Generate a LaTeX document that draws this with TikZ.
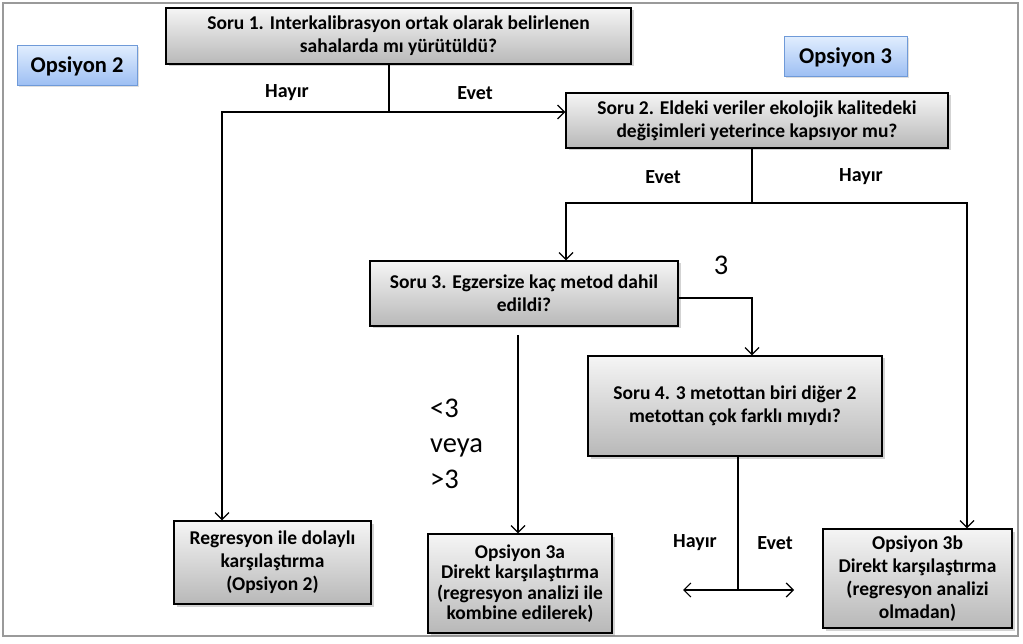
\documentclass[tikz,border=0pt]{standalone}
\usepackage{fontspec}
\setmainfont{Carlito}
\usetikzlibrary{arrows.meta,shadows}
\definecolor{boxtop}{HTML}{F5F5F5}
\definecolor{boxbot}{HTML}{B8B8B8}
\definecolor{bluetop}{HTML}{E0EDFE}
\definecolor{bluebot}{HTML}{9CBEF3}
\definecolor{blueline}{HTML}{6F9AD8}
\definecolor{framegray}{HTML}{9A9A9A}
\tikzset{
  qbox/.style={draw=black, line width=1.3pt, top color=boxtop, bottom color=boxbot,
    drop shadow={shadow xshift=2.5pt, shadow yshift=-2.5pt, opacity=0.35},
    align=center, inner sep=2pt,
    font=\fontsize{19.5}{23}\selectfont\bfseries},
  optlabel/.style={draw=blueline, line width=1pt, top color=bluetop, bottom color=bluebot,
    drop shadow={shadow xshift=1.5pt, shadow yshift=-1.5pt, opacity=0.25},
    align=center, font=\fontsize{22.5}{26}\selectfont\bfseries},
  lbl/.style={font=\fontsize{20}{24}\selectfont\bfseries, inner sep=0pt},
  biglbl/.style={font=\fontsize{28.5}{36}\selectfont, inner sep=0pt},
  conn/.style={line width=1.2pt, draw=black},
  arr/.style={conn, -{Straight Barb[length=7pt,width=14pt,line width=1.2pt]}},
  darr/.style={conn, {Straight Barb[length=7pt,width=14pt,line width=1.2pt]}-{Straight Barb[length=7pt,width=14pt,line width=1.2pt]}}
}
\begin{document}
\begin{tikzpicture}[x=1pt,y=-1pt]
\useasboundingbox (0,0) rectangle (1023,644);
% outer frame
\draw[framegray, line width=1.8pt] (3,3) rectangle (1018,636);

% option labels
\node[optlabel, minimum width=120, minimum height=40] (opt2) at (77,66) {Opsiyon 2};
\node[optlabel, minimum width=123, minimum height=40] (opt3) at (845.5,57) {Opsiyon 3};

% question and outcome boxes
\node[qbox, minimum width=465, minimum height=56] (s1) at (398.5,36)
  {Soru 1. Interkalibrasyon ortak olarak belirlenen\\sahalarda mı yürütüldü?};
\node[qbox, minimum width=382, minimum height=55] (s2) at (757,120.5)
  {Soru 2. Eldeki veriler ekolojik kalitedeki\\değişimleri yeterince kapsıyor mu?};
\node[qbox, minimum width=308, minimum height=65] (s3) at (524,293.5)
  {Soru 3. Egzersize kaç metod dahil\\edildi?};
\node[qbox, minimum width=294, minimum height=100, font=\fontsize{19.5}{22.5}\selectfont\bfseries] (s4) at (735,406)
  {Soru 4. 3 metottan biri diğer 2\\metottan çok farklı mıydı?};
\node[qbox, minimum width=197, minimum height=83] (reg) at (272.5,562.5)
  {Regresyon ile dolaylı\\karşılaştırma\\(Opsiyon 2)};
\node[qbox, minimum width=184, minimum height=99, font=\fontsize{19.5}{20.5}\selectfont\bfseries] (o3a) at (520,583.5)
  {Opsiyon 3a\\Direkt karşılaştırma\\(regresyon analizi ile\\kombine edilerek)};
\node[qbox, minimum width=189, minimum height=99] (o3b) at (917.5,578.5)
  {Opsiyon 3b\\Direkt karşılaştırma\\(regresyon analizi\\olmadan)};

% branch points
\coordinate (j1) at (389,112);
\coordinate (j1l) at (222,112);
\coordinate (j2) at (752,203);
\coordinate (j2l) at (566,203);
\coordinate (j2r) at (967,203);
\coordinate (k1) at (752,298);
\coordinate (k2) at (518,335);
\coordinate (m) at (738,590);
\coordinate (ml) at (683,590);
\coordinate (mr) at (794,590);

% Soru 1 branches
\draw[conn] (s1.south -| j1) -- (j1);
\draw[arr] (j1) -- (j1 -| s2.west);
\draw[arr] (j1) -- (j1l) -- (j1l |- reg.north);
% Soru 2 branches
\draw[conn] (s2.south -| j2) -- (j2);
\draw[arr] (j2) -- (j2l) -- (j2l |- s3.north);
\draw[arr] (j2) -- (j2r) -- (j2r |- o3b.north);
% Soru 3 branches
\draw[arr] (s3.east |- k1) -- (k1) -- (k1 |- s4.north);
\draw[arr] (k2) -- (k2 |- o3a.north);
% Soru 4 branches
\draw[conn] (s4.south -| m) -- (m);
\draw[darr] (ml) -- (mr);

% branch labels
\node[lbl] (l1h) at (287,93) {Hayır};
\node[lbl] (l1e) at (475,93) {Evet};
\node[lbl] (l2e) at (663,177) {Evet};
\node[lbl] (l2h) at (861,177) {Hayır};
\node[lbl] (l4h) at (695,543) {Hayır};
\node[lbl] (l4e) at (775,543) {Evet};
\node[biglbl, anchor=base] (l3) at (721,275) {3};
\node[biglbl, anchor=base west] (l3a) at (430,417) {<3};
\node[biglbl, anchor=base west] (l3b) at (430,452.5) {veya};
\node[biglbl, anchor=base west] (l3c) at (430,488) {>3};
\end{tikzpicture}
\end{document}
